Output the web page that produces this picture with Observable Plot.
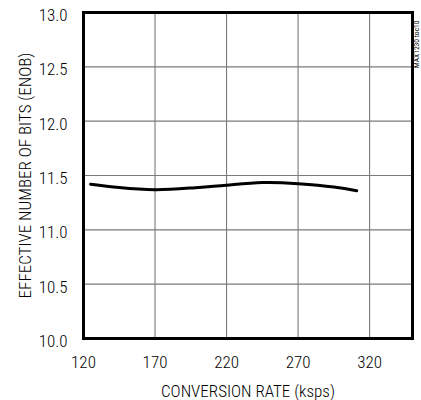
<!DOCTYPE html>
<html>
<head>
<meta charset="utf-8">
<script src="https://cdn.jsdelivr.net/npm/d3@7"></script>
<script src="https://cdn.jsdelivr.net/npm/@observablehq/plot@0.6"></script>
<style>
  body { margin: 0; background: #fff; }
  #chart svg { display: block; }
</style>
</head>
<body>
<div id="chart"></div>
<script>
const rate = [125, 145, 170, 195, 220, 245, 270, 295, 311];
const enob = [11.42, 11.39, 11.37, 11.385, 11.41, 11.435, 11.425, 11.395, 11.36];
const xTicks = [120, 170, 220, 270, 320];
const yTicks = [10.0, 10.5, 11.0, 11.5, 12.0, 12.5, 13.0];
const xGrid = [170, 220, 270, 320];
const yGrid = [10.5, 11.0, 11.5, 12.0, 12.5];

const data = rate.map((r, i) => ({rate: r, enob: enob[i]}));
const font = "'Roboto Condensed', 'DejaVu Sans Condensed', sans-serif";

const chart = Plot.plot({
  width: 421,
  height: 400,
  marginLeft: 83,
  marginRight: 9,
  marginTop: 12,
  marginBottom: 62,
  style: {fontFamily: font, fontSize: "17px", fontWeight: 300, color: "#000", background: "#fff"},
  x: {domain: [120, 350]},
  y: {domain: [10, 13]},
  marks: [
    Plot.ruleX(xGrid, {stroke: "#7a7a7a", strokeWidth: 1.1}),
    Plot.ruleY(yGrid, {stroke: "#7a7a7a", strokeWidth: 1.1}),
    Plot.line(data, {x: "rate", y: "enob", curve: "natural", stroke: "#000", strokeWidth: 3}),
    Plot.frame({stroke: "#000", strokeWidth: 3}),
    Plot.axisX({ticks: xTicks, tickSize: 0, tickPadding: 17, tickFormat: d3.format("d"),
      label: "CONVERSION RATE (ksps)", labelAnchor: "center", labelArrow: "none", labelOffset: 58, fontSize: 17}),
    Plot.axisY({ticks: yTicks, tickSize: 0, tickPadding: 16, dy: 3, tickFormat: d3.format(".1f"),
      label: "EFFECTIVE NUMBER OF BITS (ENOB)", labelAnchor: "center", labelArrow: "none", labelOffset: 65, fontSize: 17})
  ]
});

d3.select(chart).append("text")
  .attr("transform", "translate(416,68) rotate(-90)")
  .attr("font-family", font)
  .attr("font-size", 7.5)
  .attr("font-weight", 400)
  .attr("fill", "#000")
  .attr("text-anchor", "start")
  .attr("dy", "0.35em")
  .text("MAX1230 toc10");

document.getElementById("chart").appendChild(chart);
</script>
</body>
</html>
